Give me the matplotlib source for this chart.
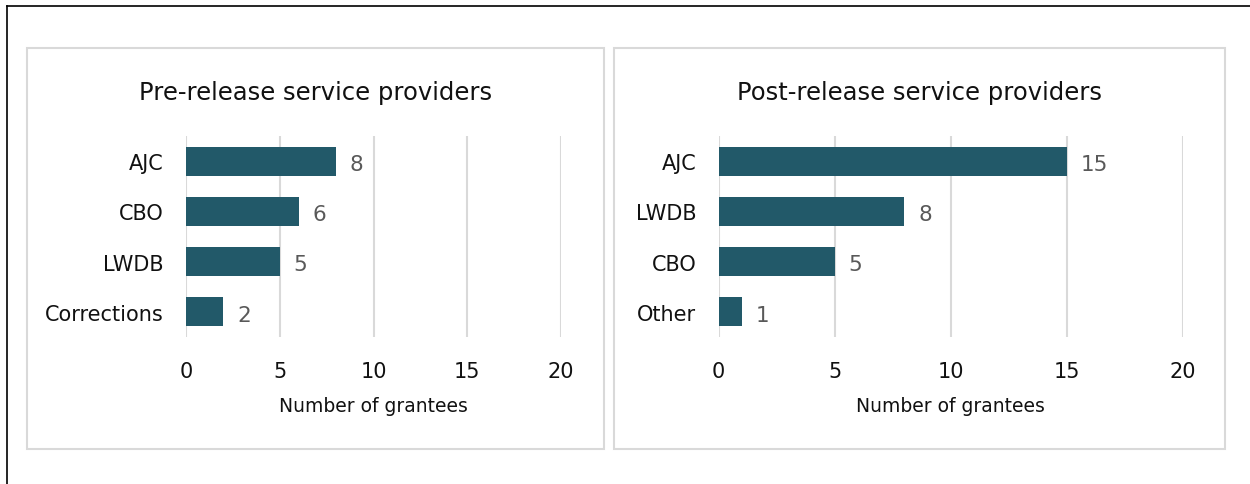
import numpy as np
from matplotlib import pyplot as plt
from matplotlib.patches import Rectangle
from matplotlib.lines import Line2D

# data
pre_labels = ['AJC', 'CBO', 'LWDB', 'Corrections']
pre_values = [8, 6, 5, 2]
post_labels = ['AJC', 'LWDB', 'CBO', 'Other']
post_values = [15, 8, 5, 1]
x_ticks = [0, 5, 10, 15, 20]

BAR = '#225969'
GRID = '#d9d9d9'
W, H = 1250, 485

plt.rcParams['font.family'] = 'DejaVu Sans'

fig = plt.figure(figsize=(W / 100, H / 100), dpi=100)


def px_rect(x0, y0, x1, y1):
    '''pixel box (top-left origin) -> figure fraction [l, b, w, h]'''
    return [x0 / W, 1 - y1 / H, (x1 - x0) / W, (y1 - y0) / H]


def draw_panel(box, ax_box, title, labels, values):
    l, b, w, h = px_rect(*box)
    fig.add_artist(Rectangle((l, b), w, h, transform=fig.transFigure,
                             fill=False, edgecolor=GRID, lw=1.5))
    fig.text(l + w / 2, 1 - 100 / H, title, ha='center', va='baseline',
             fontsize=17.5, color='#111111')

    ax = fig.add_axes(px_rect(*ax_box))
    y = np.arange(len(labels))
    ax.barh(y, values, height=0.58, color=BAR, zorder=3)
    for yi, v in zip(y, values):
        ax.annotate(str(v), (v, yi), xytext=(10, -2), textcoords='offset points',
                    va='center', ha='left', fontsize=15.5, color='#595959')
    ax.set_xlim(0, 20)
    ax.set_ylim(len(labels) - 0.5, -0.5)
    ax.set_xticks(x_ticks)
    ax.set_yticks(y)
    ax.set_yticklabels(labels)
    ax.xaxis.grid(True, color=GRID, lw=1.5, zorder=0)
    ax.set_axisbelow(True)
    for s in ax.spines.values():
        s.set_visible(False)
    ax.tick_params(axis='x', length=0, pad=17, labelsize=15, labelcolor='#111111')
    ax.tick_params(axis='y', length=0, pad=16, labelsize=15, labelcolor='#111111')
    ax.set_xlabel('Number of grantees', fontsize=13.5, color='#111111')
    ax.xaxis.set_label_coords(0.5, -0.295)
    return ax


draw_panel((27, 49, 604, 450), (186, 137, 561, 338),
           'Pre-release service providers', pre_labels, pre_values)
draw_panel((614, 49, 1225, 450), (718.6, 137, 1182.6, 338),
           'Post-release service providers', post_labels, post_values)

# outer frame: top and left edges only
fig.add_artist(Line2D([7 / W, 1], [1 - 7 / H, 1 - 7 / H], transform=fig.transFigure,
                      color='black', lw=1.2))
fig.add_artist(Line2D([7 / W, 7 / W], [0, 1 - 7 / H], transform=fig.transFigure,
                      color='black', lw=1.2))

fig.savefig('out.png', dpi=100, facecolor='white')
